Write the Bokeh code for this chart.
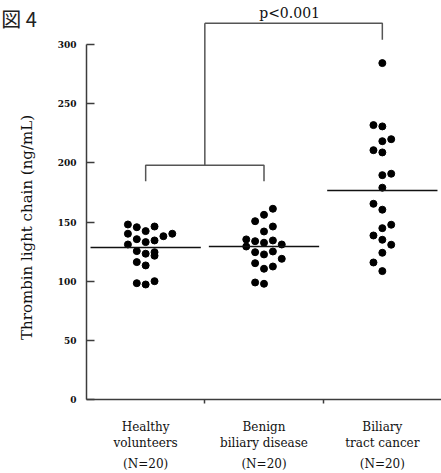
import numpy as np
from bokeh.plotting import figure
from bokeh.models import FixedTicker, Label, LinearAxis, Range1d
from bokeh.embed import file_html
from bokeh.resources import INLINE

# ---- data -------------------------------------------------------------
categories = ["Healthy\nvolunteers", "Benign\nbiliary disease", "Biliary\ntract cancer"]
n_labels = ["(N=20)", "(N=20)", "(N=20)"]
y_ticks = [0, 50, 100, 150, 200, 250, 300]
y_title = "Thrombin light chain (ng/mL)"
fig_title = "図 4"
p_text = "p<0.001"

healthy_values = [147.9, 145.6, 142.3, 146.2,
                  140.1, 135.5, 133.0, 134.4, 138.0, 140.1,
                  131.0, 125.4, 123.2, 124.5, 121.5,
                  116.1, 113.3,
                  98.3, 97.2, 100.0]
healthy_cols = [-2, -1, 0, 1,
                -2, -1, 0, 1, 2, 3,
                -2, -1, 0, 1, 1,
                -1, 0,
                -1, 0, 1]

benign_values = [161.2, 156.1, 150.7, 146.2, 142.0,
                 135.3, 133.8, 132.5, 134.4, 129.3, 131.0,
                 124.5, 122.6, 125.1, 118.9,
                 115.2, 110.5, 112.4,
                 98.9, 97.8]
benign_cols = [1, 0, -1, 1, 0,
               -2, -1, 0, 1, -2, 2,
               -1, 0, 1, 2,
               -1, 0, 1,
               -1, 0]

cancer_values = [284.3, 231.9, 230.8, 218.3, 220.0,
                 210.7, 208.8, 189.6, 190.8, 179.0,
                 165.4, 160.4, 144.8, 147.7, 138.6,
                 135.0, 130.8, 124.0, 115.8, 108.5]
cancer_cols = [0, -1, 0, 0, 1,
               -1, 0, 0, 1, 0,
               -1, 0, 0, 1, -1,
               0, 1, 0, -1, 0]

means = [128.5, 129.3, 176.7]

# bracket levels (ng/mL)
lower_bracket = [184.5, 198.0]
upper_bracket = [318.0, 304.0]

# ---- layout constants ------------------------------------------------
col_step = 0.075      # horizontal spacing of dots (category units)
mean_half = 0.466     # half width of mean line
centers = [0.5, 1.5, 2.5]

serif = "DejaVu Serif"
ink = "#111111"
axis_col = "#3c3c3c"

p = figure(width=441, height=473,
           x_range=Range1d(0, 3), y_range=Range1d(0, 337.2),
           output_backend="svg", toolbar_location=None,
           min_border_left=86, min_border_right=0,
           min_border_top=0, min_border_bottom=74)
p.outline_line_color = None
p.xgrid.visible = False
p.ygrid.visible = False
p.background_fill_color = "white"
p.border_fill_color = "white"

# dots
xs, ys = [], []
for c, vals, cols in zip(centers, [healthy_values, benign_values, cancer_values],
                         [healthy_cols, benign_cols, cancer_cols]):
    for v, k in zip(vals, cols):
        xs.append(c + k * col_step)
        ys.append(v)
p.scatter(xs, ys, size=7, color="black", line_color="black")

# mean lines
p.segment(x0=[c - mean_half for c in centers], y0=means,
          x1=[c + mean_half for c in centers], y1=means,
          line_color=ink, line_width=1.5)

# brackets
p.multi_line(xs=[[0.5, 0.5, 1.5, 1.5], [1.0, 1.0], [1.0, 2.5, 2.5]],
             ys=[[lower_bracket[0], lower_bracket[1], lower_bracket[1], lower_bracket[0]],
                 [lower_bracket[1], upper_bracket[0]],
                 [upper_bracket[0], upper_bracket[0], upper_bracket[1]]],
             line_color="#555555", line_width=1.5)

p.add_layout(Label(x=1.716, y=326.6, text=p_text, text_align="center",
                   text_baseline="middle", text_font=serif,
                   text_font_size="14px", text_color=ink))

# texts outside the frame live in the left side panel (not clipped there)
p.add_layout(Label(x=-0.499, y=145.4, text=y_title, angle=np.pi / 2,
                   text_align="center", text_baseline="middle",
                   text_font=serif, text_font_size="15px", text_color=ink), "left")
p.add_layout(Label(x=-0.72, y=322.0, text=fig_title, text_align="left",
                   text_baseline="alphabetic", text_font="Noto Sans CJK JP",
                   text_font_size="20px", text_color="#222222"), "left")

# y axis
p.yaxis.bounds = (0, 300)
p.yaxis.ticker = FixedTicker(ticks=y_ticks)
p.yaxis.axis_line_color = axis_col
p.yaxis.axis_line_width = 1.5
p.yaxis.major_tick_in = 8
p.yaxis.major_tick_out = 0
p.yaxis.major_tick_line_color = axis_col
p.yaxis.major_tick_line_width = 1.5
p.yaxis.minor_tick_line_color = None
p.yaxis.major_label_standoff = 10
p.yaxis.major_label_text_font = serif
p.yaxis.major_label_text_font_style = "bold"
p.yaxis.major_label_text_font_size = "9px"
p.yaxis.major_label_text_color = ink

# x axis
p.xaxis.ticker = FixedTicker(ticks=centers, minor_ticks=[1, 2])
p.xaxis.major_label_overrides = {c: lab for c, lab in zip(centers, categories)}
p.xaxis.axis_line_color = axis_col
p.xaxis.axis_line_width = 1.5
p.xaxis.major_tick_in = 0
p.xaxis.major_tick_out = 0
p.xaxis.minor_tick_in = 0
p.xaxis.minor_tick_out = 4
p.xaxis.minor_tick_line_color = axis_col
p.xaxis.minor_tick_line_width = 1.5
p.xaxis.major_label_standoff = 16
p.xaxis.major_label_text_font = serif
p.xaxis.major_label_text_font_size = "12px"
p.xaxis.major_label_text_line_height = 1.165
p.xaxis.major_label_text_color = ink

# second bottom axis carrying the group sizes
n_axis = LinearAxis(ticker=FixedTicker(ticks=centers),
                    major_label_overrides={c: lab for c, lab in zip(centers, n_labels)},
                    axis_line_color=None, major_tick_line_color=None,
                    minor_tick_line_color=None,
                    major_tick_in=0, major_tick_out=0,
                    minor_tick_in=0, minor_tick_out=0,
                    major_label_standoff=4,
                    major_label_text_font=serif, major_label_text_font_size="12px",
                    major_label_text_color=ink)
p.add_layout(n_axis, "below")

open("out.html", "w").write(file_html(p, INLINE))
